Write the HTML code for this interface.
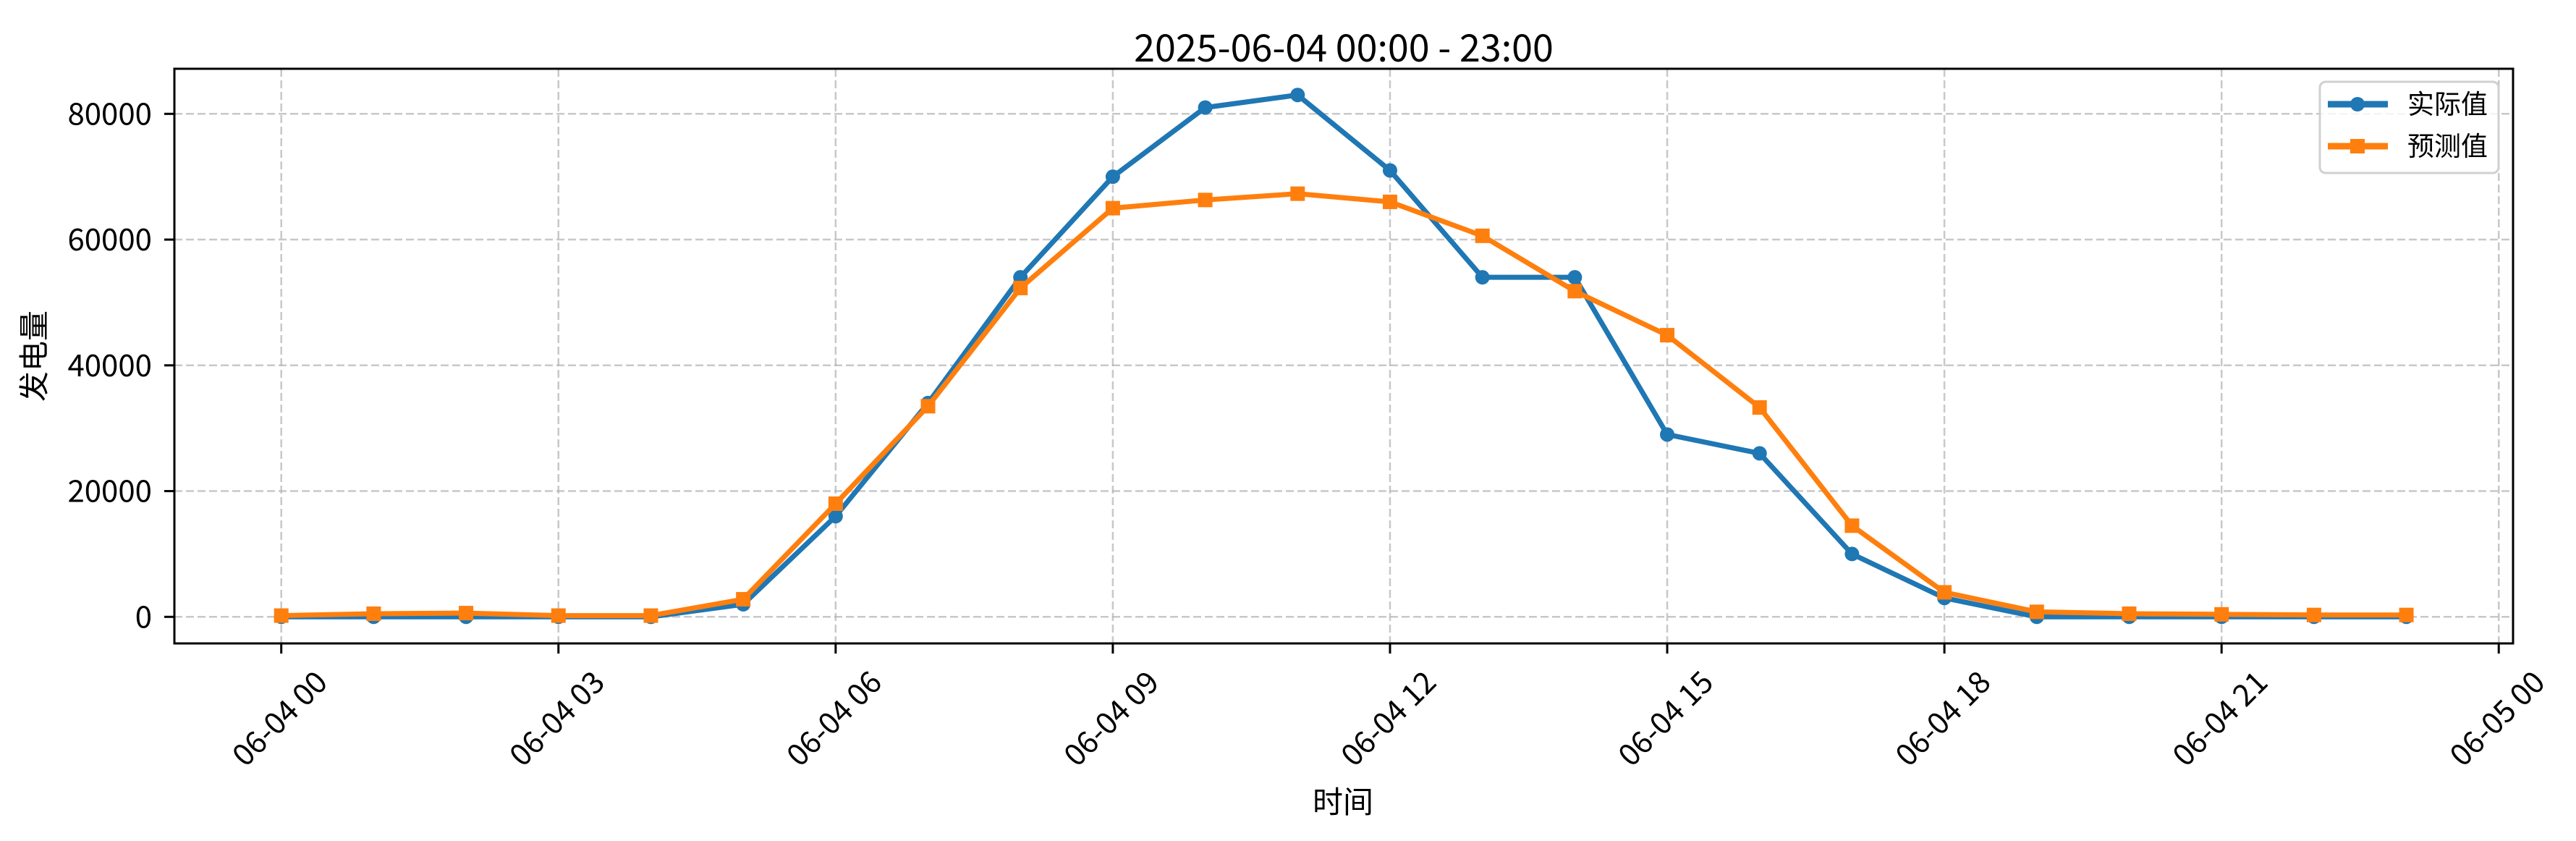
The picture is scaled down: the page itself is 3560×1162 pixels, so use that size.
<!DOCTYPE html>
<html><head><meta charset="utf-8"><style>
html,body{margin:0;padding:0;background:#fff;}
svg{display:block;font-family:"Noto Sans CJK SC","Liberation Sans",sans-serif;}
</style></head><body>
<svg id="chart" width="3560" height="1162" viewBox="0 0 3560 1162" xmlns="http://www.w3.org/2000/svg">
<rect width="3560" height="1162" fill="#fff"/>
<text x="1857" y="85" font-size="52" text-anchor="middle">2025-06-04 00:00 - 23:00</text>
<g id="grid"></g>
<g id="series"></g>
<rect x="241" y="95" width="3232" height="794" fill="none" stroke="#000" stroke-width="3"/>
<g id="ticks"></g>
<text x="1856" y="1123" font-size="42" text-anchor="middle">时间</text>
<text transform="translate(62,492) rotate(-90)" font-size="42" text-anchor="middle">发电量</text>
<g>
<rect x="3206" y="113" width="247" height="126" rx="8" fill="#fff" fill-opacity="0.8" stroke="#d0d0d0" stroke-width="3"/>
<line x1="3217" y1="144" x2="3300" y2="144" stroke="#1f77b4" stroke-width="9"/>
<circle cx="3258" cy="144" r="10" fill="#1f77b4"/>
<text x="3327" y="157" font-size="37">实际值</text>
<line x1="3217" y1="202" x2="3300" y2="202" stroke="#ff7f0e" stroke-width="9"/>
<rect x="3248" y="192" width="20" height="20" fill="#ff7f0e"/>
<text x="3327" y="215" font-size="37">预测值</text>
</g>
</svg>
<script>
const hours = [0,1,2,3,4,5,6,7,8,9,10,11,12,13,14,15,16,17,18,19,20,21,22,23];
const actualValues = [0,0,0,0,0,2000,16000,34000,54000,70000,81000,83000,71000,54000,54000,29000,26000,10000,3000,0,0,0,0,0];
const forecastValues = [200,500,600,200,200,2800,18000,33500,52300,65000,66300,67300,66000,60600,51800,44800,33300,14500,3900,800,500,400,300,300];
const xTickHours = [0,3,6,9,12,15,18,21,24];
const xTickLabels = ["06-04 00","06-04 03","06-04 06","06-04 09","06-04 12","06-04 15","06-04 18","06-04 21","06-05 00"];
const yTickValues = [0,20000,40000,60000,80000];

const NS="http://www.w3.org/2000/svg";
function xs(h){return 388.7+h*127.69;}
function ys(v){return 852.3-v*0.0086875;}
function mk(tag,attrs,parent){const e=document.createElementNS(NS,tag);for(const k in attrs)e.setAttribute(k,attrs[k]);parent.appendChild(e);return e;}
const grid=document.getElementById('grid'),ticks=document.getElementById('ticks'),series=document.getElementById('series');
xTickHours.forEach((h,i)=>{
  const x=xs(h);
  const g=mk('line',{x1:x,y1:95,x2:x,y2:889,stroke:'#b0b0b0','stroke-opacity':0.7,'stroke-width':2.5,'stroke-dasharray':'11,5'},grid);
  
  
  const t=mk('line',{x1:x,y1:889,x2:x,y2:903,stroke:'#000','stroke-width':3},ticks);
  
  
  const l=mk('text',{transform:`translate(${x-4},991) rotate(-45)`,'font-size':42,'text-anchor':'middle','dominant-baseline':'central'},ticks);
  l.textContent=xTickLabels[i];
  
  
});
yTickValues.forEach(v=>{
  const y=ys(v);
  const g=mk('line',{x1:241,y1:y,x2:3473,y2:y,stroke:'#b0b0b0','stroke-opacity':0.7,'stroke-width':2.5,'stroke-dasharray':'11,5'},grid);
  
  
  const t=mk('line',{x1:227,y1:y,x2:241,y2:y,stroke:'#000','stroke-width':3},ticks);
  
  
  const l=mk('text',{x:210,y:y+15,'font-size':42,'text-anchor':'end'},ticks);
  l.textContent=String(v);
  
  
});
function drawSeries(vals,color,kind,name){
  const pts=hours.map((h,i)=>xs(h)+','+ys(vals[i])).join(' ');
  const pl=mk('polyline',{points:pts,fill:'none',stroke:color,'stroke-width':7,'stroke-linejoin':'round'},series);
  
  
  hours.forEach((h,i)=>{
    let m;
    if(kind==='circle') m=mk('circle',{cx:xs(h),cy:ys(vals[i]),r:10,fill:color},series);
    else m=mk('rect',{x:xs(h)-10,y:ys(vals[i])-10,width:20,height:20,fill:color},series);
    
    
  });
}
drawSeries(actualValues,'#1f77b4','circle','actual');
drawSeries(forecastValues,'#ff7f0e','square','forecast');
</script>
</body></html>
